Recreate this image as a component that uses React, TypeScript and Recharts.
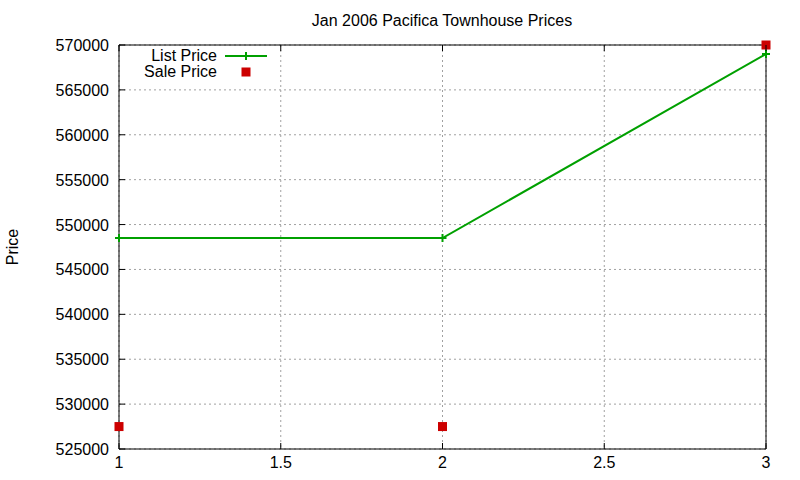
import { ComposedChart, Line, XAxis, YAxis, CartesianGrid } from "recharts";

const days = [1, 2, 3];
const listPrice = [548500, 548500, 569000];
const salePrice = [527500, 527500, 570000];
const xTicks = [1, 1.5, 2, 2.5, 3];
const yTicks = [525000, 530000, 535000, 540000, 545000, 550000, 555000, 560000, 565000, 570000];

const data = days.map((d, i) => ({ x: d, list: listPrice[i], sale: salePrice[i] }));

const FONT = "'Liberation Sans', Arial, sans-serif";
const GREEN = "#00a000";
const RED = "#cc0000";
const TICK = 6;

const BottomTick = (props: any) => {
  const { x, y, payload } = props;
  return (
    <g>
      <line x1={x} y1={y} x2={x} y2={y - TICK} stroke="#000" />
      <text x={x} y={y + 19} textAnchor="middle" fontSize={16} fontFamily={FONT} fill="#000">
        {payload.value}
      </text>
    </g>
  );
};

const TopTick = (props: any) => {
  const { x, y } = props;
  return <line x1={x} y1={y} x2={x} y2={y + TICK} stroke="#000" />;
};

const LeftTick = (props: any) => {
  const { x, y, payload } = props;
  return (
    <g>
      <line x1={x} y1={y} x2={x + TICK} y2={y} stroke="#000" />
      <text x={x - 10} y={y + 6} textAnchor="end" fontSize={16} fontFamily={FONT} fill="#000">
        {payload.value}
      </text>
    </g>
  );
};

const RightTick = (props: any) => {
  const { x, y } = props;
  return <line x1={x - TICK} y1={y} x2={x} y2={y} stroke="#000" />;
};

const PlusDot = (props: any) => {
  const { cx, cy } = props;
  if (cx == null || cy == null) return null;
  return (
    <g>
      <line x1={cx - 4} y1={cy} x2={cx + 4} y2={cy} stroke={GREEN} strokeWidth={2} />
      <line x1={cx} y1={cy - 4} x2={cx} y2={cy + 4} stroke={GREEN} strokeWidth={2} />
    </g>
  );
};

const SquareDot = (props: any) => {
  const { cx, cy } = props;
  if (cx == null || cy == null) return null;
  return <rect x={cx - 4.5} y={cy - 4.5} width={9} height={9} fill={RED} />;
};

// title and key drawn over the chart, gnuplot style
const Overlay = () => (
  <svg
    width={800}
    height={480}
    style={{ position: "absolute", left: 0, top: 0, pointerEvents: "none" }}
  >
    <text x={442} y={26} textAnchor="middle" fontSize={16} fontFamily={FONT} fill="#000">
      Jan 2006 Pacifica Townhouse Prices
    </text>
    <g transform="translate(119,45)">
      <text x={98} y={16} textAnchor="end" fontSize={16} fontFamily={FONT} fill="#000">
        List Price
      </text>
      <line x1={106} y1={11} x2={148} y2={11} stroke={GREEN} strokeWidth={2} />
      <line x1={123} y1={11} x2={131} y2={11} stroke={GREEN} strokeWidth={2} />
      <line x1={127} y1={7} x2={127} y2={15} stroke={GREEN} strokeWidth={2} />
      <text x={98} y={32} textAnchor="end" fontSize={16} fontFamily={FONT} fill="#000">
        Sale Price
      </text>
      <rect x={122.5} y={22.5} width={9} height={9} fill={RED} />
    </g>
  </svg>
);

export default function App() {
  return (
    <div style={{ position: "absolute", left: 0, top: 0, width: 800, height: 480, background: "#fff" }}>
      <ComposedChart
        width={800}
        height={480}
        data={data}
        margin={{ top: 44, right: 33, bottom: 0, left: 0 }}
      >
        <CartesianGrid xAxisId="bottom" yAxisId="left" stroke="#a0a0a0" strokeDasharray="2 3" />
        <XAxis
          xAxisId="bottom"
          dataKey="x"
          type="number"
          domain={[1, 3]}
          ticks={xTicks}
          height={31}
          tickSize={0}
          tickMargin={0}
          tickLine={false}
          axisLine={{ stroke: "#000" }}
          tick={<BottomTick />}
          interval={0}
        />
        <XAxis
          xAxisId="top"
          orientation="top"
          dataKey="x"
          type="number"
          domain={[1, 3]}
          ticks={xTicks}
          height={1}
          tickSize={0}
          tickMargin={0}
          tickLine={false}
          axisLine={{ stroke: "#000" }}
          tick={<TopTick />}
          interval={0}
        />
        <YAxis
          yAxisId="left"
          type="number"
          domain={[525000, 570000]}
          ticks={yTicks}
          width={119}
          tickSize={0}
          tickMargin={0}
          tickLine={false}
          axisLine={{ stroke: "#000" }}
          tick={<LeftTick />}
          interval={0}
          label={{
            content: (p: any) => {
              const vb = p.viewBox || {};
              const cy = (vb.y ?? 0) + (vb.height ?? 0) / 2;
              return (
                <text
                  x={18}
                  y={cy}
                  transform={`rotate(-90, 18, ${cy})`}
                  textAnchor="middle"
                  fontSize={16}
                  fontFamily={FONT}
                  fill="#000"
                >
                  Price
                </text>
              );
            },
          }}
        />
        <YAxis
          yAxisId="right"
          orientation="right"
          type="number"
          domain={[525000, 570000]}
          ticks={yTicks}
          width={1}
          tickSize={0}
          tickMargin={0}
          tickLine={false}
          axisLine={{ stroke: "#000" }}
          tick={<RightTick />}
          interval={0}
        />
        <Line
          xAxisId="bottom"
          yAxisId="left"
          dataKey="list"
          name="List Price"
          stroke={GREEN}
          strokeWidth={2}
          dot={<PlusDot />}
          activeDot={false}
          isAnimationActive={false}
        />
        <Line
          xAxisId="bottom"
          yAxisId="left"
          dataKey="sale"
          name="Sale Price"
          stroke="none"
          dot={<SquareDot />}
          activeDot={false}
          isAnimationActive={false}
        />
      </ComposedChart>
      <Overlay />
    </div>
  );
}
